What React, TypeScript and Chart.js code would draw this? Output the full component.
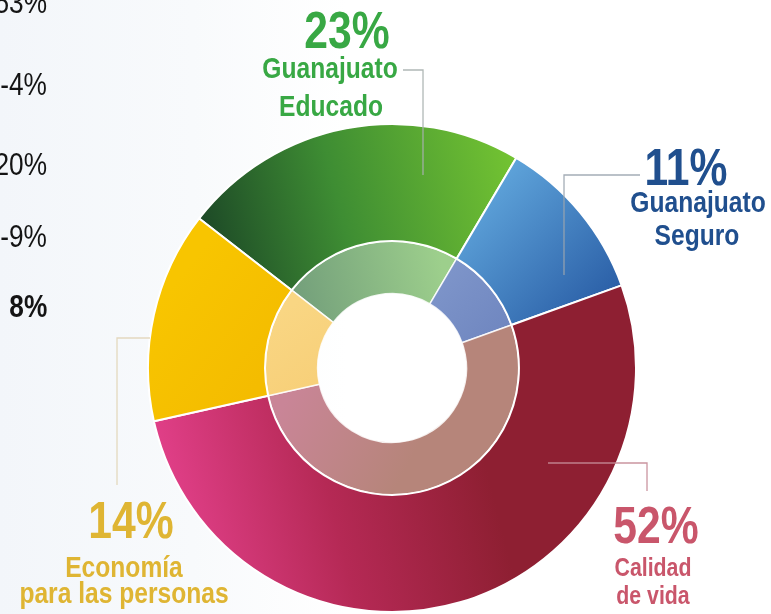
import React, { useEffect, useRef } from "react";
import { Chart, registerables } from "chart.js";

Chart.register(...registerables);

// ---------- data ----------
const CATEGORIES = ["Guanajuato Educado", "Guanajuato Seguro", "Calidad de vida", "Economía para las personas"];
const VALUES = [23, 11, 52, 14];
const PERCENT_TEXT = ["23%", "11%", "52%", "14%"];
const NAME_LINES = [
  ["Guanajuato", "Educado"],
  ["Guanajuato", "Seguro"],
  ["Calidad", "de vida"],
  ["Economía", "para las personas"],
];
const SIDE_TEXT = ["53%", "-4%", "20%", "-9%", "8%"];

// ---------- styles / layout ----------
const W = 771;
const H = 614;
const R = 244;
const FONT = "'Liberation Sans', Arial, sans-serif";
const NARROW = 0.82;

type Stop = [number, string];
type Grad = { p0: [number, number]; p1: [number, number]; stops: Stop[] };

const OUTER_GRADS: Grad[] = [
  { p0: [-0.79, -0.48], p1: [0.5, -0.8], stops: [[0, "#1b4526"], [0.45, "#3e8d33"], [1, "#72c232"]] },
  { p0: [0.36, -0.81], p1: [0.9, -0.28], stops: [[0, "#63aadf"], [1, "#2a5ea6"]] },
  { p0: [-0.91, 0.62], p1: [0.36, 0.3], stops: [[0, "#e2408a"], [0.5, "#b52955"], [1, "#8e1f32"]] },
  { p0: [-0.95, -0.28], p1: [-0.54, 0.05], stops: [[0, "#f8c500"], [1, "#f4bc00"]] },
];
const INNER_GRADS: Grad[] = [
  { p0: [-0.46, -0.28], p1: [0.2, -0.44], stops: [[0, "#6f9a79"], [1, "#9dcf8c"]] },
  { p0: [0.15, -0.45], p1: [0.45, -0.15], stops: [[0, "#8198cc"], [1, "#7087c0"]] },
  { p0: [-0.5, 0.25], p1: [0.0, 0.52], stops: [[0, "#c98597"], [1, "#b6857a"]] },
  { p0: [-0.5, -0.2], p1: [-0.3, 0.1], stops: [[0, "#f9d683"], [1, "#f7cf78"]] },
];

const TEXT_COLORS = ["#38a844", "#204f8e", "#c9566b", "#dfb533"];
const LINE_COLORS = ["#a7b0ae", "#9aa4ae", "#c48a96", "#e2d5b8"];
const NAME_SIZES = [30, 30, 26, 30];

// label layout: [cx, baseline] for percent, name line 1, name line 2
const LABEL_POS: [number, number][][] = [
  [[347, 48], [330, 78], [331, 116]],
  [[686, 185], [698, 212], [697, 245]],
  [[656, 543], [653, 576], [653, 604]],
  [[131, 538], [124, 577], [124, 603]],
];
const LEADERS: [number, number][][] = [
  [[403, 70], [423, 70], [423, 175]],
  [[564, 275], [564, 175], [640, 175]],
  [[548, 463], [647, 463], [647, 491]],
  [[117, 485], [117, 338], [150, 338]],
];
const SIDE_BASELINES = [13, 95, 175, 247, 317];
const SIDE_RIGHT = 47;

function makeGradient(chart: any, g: Grad) {
  const area = chart.chartArea;
  if (!area) return g.stops[0][1];
  const cx = (area.left + area.right) / 2;
  const cy = (area.top + area.bottom) / 2;
  const grad = chart.ctx.createLinearGradient(
    cx + g.p0[0] * R, cy + g.p0[1] * R, cx + g.p1[0] * R, cy + g.p1[1] * R
  );
  g.stops.forEach(([o, c]) => grad.addColorStop(o, c));
  return grad;
}

function TextLine(props: { text: string; cx: number; baseline: number; size: number; bold: boolean; color: string; anchor?: "center" | "right" }) {
  const { text, cx, baseline, size, bold, color, anchor = "center" } = props;
  const style: React.CSSProperties = {
    position: "absolute",
    top: baseline - 0.8465 * size,
    fontFamily: FONT,
    fontSize: size,
    lineHeight: `${size}px`,
    fontWeight: bold ? 700 : 400,
    color,
    whiteSpace: "nowrap",
  };
  if (anchor === "center") {
    style.left = cx;
    style.transform = `translateX(-50%) scaleX(${NARROW})`;
    style.transformOrigin = "center";
  } else {
    style.right = W - cx;
    style.textAlign = "right";
    style.transform = `scaleX(${NARROW})`;
    style.transformOrigin = "right";
  }
  return <div style={style}>{text}</div>;
}

export default function App() {
  const canvasRef = useRef<HTMLCanvasElement | null>(null);

  useEffect(() => {
    const canvas = canvasRef.current;
    if (!canvas) return;
    const chart = new Chart(canvas, {
      type: "doughnut",
      data: {
        labels: CATEGORIES,
        datasets: [
          {
            data: VALUES,
            weight: 117,
            backgroundColor: (c: any) => makeGradient(c.chart, OUTER_GRADS[c.dataIndex % OUTER_GRADS.length]),
            borderColor: "#ffffff",
            borderWidth: 2,
            hoverOffset: 0,
          },
          {
            data: VALUES,
            weight: 52.5,
            backgroundColor: (c: any) => makeGradient(c.chart, INNER_GRADS[c.dataIndex % INNER_GRADS.length]),
            borderColor: "rgba(255,255,255,0.85)",
            borderWidth: 1.5,
            hoverOffset: 0,
          },
        ],
      },
      options: {
        animation: false,
        responsive: true,
        maintainAspectRatio: false,
        rotation: -52.2,
        circumference: 360,
        radius: R,
        cutout: "30.5%",
        layout: { padding: { left: 13, top: 122, right: 0, bottom: 0 } },
        plugins: { legend: { display: false }, tooltip: { enabled: false } },
        events: [],
      } as any,
    });
    return () => chart.destroy();
  }, []);

  return (
    <div
      style={{
        position: "absolute",
        left: 0,
        top: 0,
        width: W,
        height: H,
        overflow: "hidden",
        background: "linear-gradient(90deg, #f3f6fa 0%, #f8fafc 25%, #ffffff 45%)",
      }}
    >
      <div style={{ position: "absolute", left: 0, top: 0, width: W, height: H }}>
        <canvas ref={canvasRef} />
      </div>
      <svg width={W} height={H} style={{ position: "absolute", left: 0, top: 0, pointerEvents: "none" }}>
        {LEADERS.map((pts, i) => (
          <polyline
            key={i}
            points={pts.map((p) => p.join(",")).join(" ")}
            fill="none"
            stroke={LINE_COLORS[i]}
            strokeWidth={1.3}
            opacity={0.9}
          />
        ))}
      </svg>
      {PERCENT_TEXT.map((t, i) => (
        <React.Fragment key={i}>
          <TextLine text={t} cx={LABEL_POS[i][0][0]} baseline={LABEL_POS[i][0][1]} size={52} bold color={TEXT_COLORS[i]} />
          <TextLine text={NAME_LINES[i][0]} cx={LABEL_POS[i][1][0]} baseline={LABEL_POS[i][1][1]} size={NAME_SIZES[i]} bold color={TEXT_COLORS[i]} />
          <TextLine text={NAME_LINES[i][1]} cx={LABEL_POS[i][2][0]} baseline={LABEL_POS[i][2][1]} size={NAME_SIZES[i]} bold color={TEXT_COLORS[i]} />
        </React.Fragment>
      ))}
      {SIDE_TEXT.map((t, i) => (
        <TextLine
          key={"s" + i}
          text={t}
          cx={SIDE_RIGHT}
          baseline={SIDE_BASELINES[i]}
          size={32}
          bold={i === SIDE_TEXT.length - 1}
          color="#141414"
          anchor="right"
        />
      ))}
    </div>
  );
}
